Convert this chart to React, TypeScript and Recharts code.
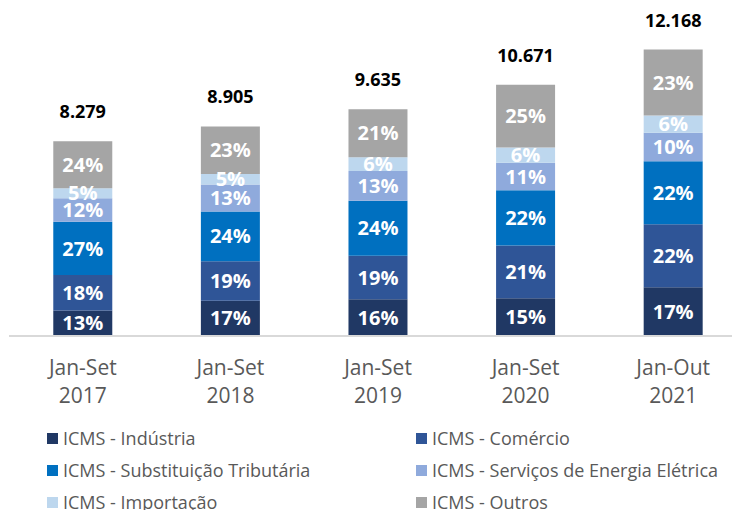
import { BarChart, Bar, XAxis, YAxis, Legend, LabelList } from 'recharts';

const periods = ['Jan-Set', 'Jan-Set', 'Jan-Set', 'Jan-Set', 'Jan-Out'];
const years = ['2017', '2018', '2019', '2020', '2021'];
const totals = [8.279, 8.905, 9.635, 10.671, 12.168];
const totalLabels = ['8.279', '8.905', '9.635', '10.671', '12.168'];

// share of each tax group in the period total (%)
const industria = [13, 17, 16, 15, 17];
const comercio = [18, 19, 19, 21, 22];
const substituicao = [27, 24, 24, 22, 22];
const energia = [12, 13, 13, 11, 10];
const importacao = [5, 5, 6, 6, 6];
const outros = [24, 23, 21, 25, 23];

const series = [
    { key: 'industria', name: 'ICMS - Indústria', color: '#203864', pct: industria },
    { key: 'comercio', name: 'ICMS - Comércio', color: '#2F5597', pct: comercio },
    { key: 'substituicao', name: 'ICMS - Substituição Tributária', color: '#0070C0', pct: substituicao },
    { key: 'energia', name: 'ICMS - Serviços de Energia Elétrica', color: '#8FAADC', pct: energia },
    { key: 'importacao', name: 'ICMS - Importação', color: '#BDD7EE', pct: importacao },
    { key: 'outros', name: 'ICMS - Outros', color: '#A5A5A5', pct: outros },
];

const chartData = years.map((year, i) => {
    const sum = series.reduce((s, ser) => s + ser.pct[i], 0);
    const row: Record<string, string | number> = {
        category: `${periods[i]}|${year}`,
        total: totals[i],
        totalLabel: totalLabels[i],
    };
    series.forEach((ser) => {
        row[ser.key] = (totals[i] * ser.pct[i]) / sum;
        row[`${ser.key}Pct`] = ser.pct[i];
    });
    return row;
});

// eslint-disable-next-line @typescript-eslint/no-explicit-any
function CategoryTick({ x, y, payload }: any) {
    const [period, year] = String(payload.value).split('|');
    return (
        <g>
            <text x={x} y={y + 39} textAnchor="middle" fill="#595959" fontSize={21}>
                {period}
            </text>
            <text x={x} y={y + 67} textAnchor="middle" fill="#595959" fontSize={21}>
                {year}
            </text>
        </g>
    );
}

function LegendGrid() {
    // two columns, filled row by row in series order
    return (
        <div
            style={{
                display: 'grid',
                gridTemplateColumns: '369px auto',
                paddingLeft: 47,
                paddingTop: 10,
            }}
        >
            {series.map((ser) => (
                <div key={ser.key} style={{ display: 'flex', alignItems: 'center', height: 32 }}>
                    <span style={{ width: 11, height: 11, background: ser.color, marginRight: 5 }} />
                    <span style={{ fontSize: 18, color: '#595959', whiteSpace: 'nowrap' }}>{ser.name}</span>
                </div>
            ))}
        </div>
    );
}

export default function App() {
    return (
        <div
            style={{
                position: 'absolute',
                left: 0,
                top: 0,
                width: 732,
                height: 510,
                overflow: 'hidden',
                background: '#fff',
                fontFamily: "'Open Sans', sans-serif",
            }}
        >
            <BarChart
                width={750}
                height={520}
                data={chartData}
                margin={{ top: 30, right: 3, bottom: 8, left: 9 }}
                barCategoryGap="30%"
            >
                <XAxis
                    dataKey="category"
                    interval={0}
                    height={76}
                    tickLine={false}
                    tickSize={0}
                    tickMargin={0}
                    axisLine={{ stroke: '#d9d9d9', strokeWidth: 2 }}
                    tick={<CategoryTick />}
                />
                <YAxis hide domain={[0, 13]} />
                <Legend
                    verticalAlign="bottom"
                    height={100}
                    wrapperStyle={{ left: 0, width: 750, height: 100 }}
                    content={<LegendGrid />}
                />
                {series.map((ser) => (
                    <Bar
                        key={ser.key}
                        dataKey={ser.key}
                        name={ser.name}
                        stackId="icms"
                        fill={ser.color}
                        isAnimationActive={false}
                    >
                        <LabelList
                            dataKey={`${ser.key}Pct`}
                            position="center"
                            formatter={(v: number) => `${v}%`}
                            fill="#ffffff"
                            fontSize={20}
                            fontWeight={700}
                        />
                        {ser.key === 'outros' && (
                            <LabelList
                                dataKey="totalLabel"
                                position="top"
                                offset={23}
                                fill="#000000"
                                fontSize={18}
                                fontWeight={700}
                            />
                        )}
                    </Bar>
                ))}
            </BarChart>
        </div>
    );
}
